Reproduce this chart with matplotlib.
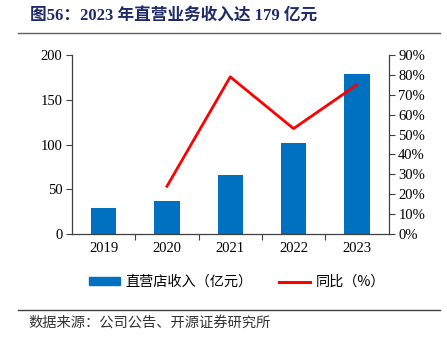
import matplotlib.pyplot as plt
import matplotlib.lines as mlines
import matplotlib.patches as mpatches
from matplotlib.ticker import FuncFormatter, MultipleLocator

plt.rcParams['font.family'] = ['Liberation Serif', 'Noto Sans CJK SC']

# data
years = ["2019", "2020", "2021", "2022", "2023"]
revenue = [29.4, 36.5, 65.9, 101.3, 179.0]      # 直营店收入（亿元）
yoy = [None, 24, 79, 53, 75]                     # 同比（%）

bar_color = '#0070C0'
line_color = '#FF0000'
title_color = '#1F2A6B'
cjk = ['Noto Sans CJK SC', 'DejaVu Sans']

fig = plt.figure(figsize=(4.47, 3.37), dpi=100)
ax = fig.add_axes([72 / 447, 1 - 234 / 337, (388.5 - 72) / 447, (234 - 55) / 337])

x = list(range(len(years)))
ax.bar(x, revenue, width=0.4, color=bar_color, zorder=2)
ax.set_xlim(-0.5, len(years) - 0.5)
ax.set_ylim(0, 200)
ax.yaxis.set_major_locator(MultipleLocator(50))
ax.set_xticks(x)
ax.set_xticklabels(years)
ax.set_xticks([i + 0.5 for i in x[:-1]], minor=True)
ax.tick_params(axis='x', which='major', length=0, pad=6, labelsize=10.5)
ax.tick_params(axis='x', which='minor', length=4, direction='out', width=0.8, color='#404040')
ax.tick_params(axis='y', length=4, width=0.8, color='#404040', labelsize=10.5, pad=3)
for s in ['top', 'right']:
    ax.spines[s].set_visible(False)
for s in ['left', 'bottom']:
    ax.spines[s].set_color('#404040')
    ax.spines[s].set_linewidth(0.9)

ax2 = ax.twinx()
xs = [i for i, v in zip(x, yoy) if v is not None]
vs = [v for v in yoy if v is not None]
ax2.plot(xs, vs, color=line_color, linewidth=2.0, zorder=3)
ax2.set_ylim(0, 90)
ax2.yaxis.set_major_locator(MultipleLocator(10))
ax2.yaxis.set_major_formatter(FuncFormatter(lambda v, p: f"{v:.0f}%"))
ax2.tick_params(axis='y', length=4, width=0.8, color='#404040', labelsize=10.5, pad=3)
for s in ['top', 'left', 'bottom']:
    ax2.spines[s].set_visible(False)
ax2.spines['right'].set_color('#404040')
ax2.spines['right'].set_linewidth(0.9)

# legend
handles = [mpatches.Patch(color=bar_color, label='直营店收入（亿元）'),
           mlines.Line2D([], [], color=line_color, linewidth=2.2, label='同比（%）')]
leg = fig.legend(handles=handles, loc='center left', bbox_to_anchor=(89 / 447, 1 - 282 / 337),
                 ncol=2, frameon=False, prop={'family': cjk, 'size': 10.2},
                 handlelength=2.2, handleheight=0.45, columnspacing=1.9, handletextpad=0.35,
                 borderpad=0, borderaxespad=0)

# title
fig.text(30 / 447, 1 - 17 / 337, '图56：2023 年直营业务收入达 179 亿元', fontsize=12,
         fontweight='bold', color=title_color, va='center', ha='left',
         family=['Liberation Serif', 'Noto Sans CJK SC'])
fig.add_artist(mlines.Line2D([18 / 447, 440 / 447], [1 - 33 / 337] * 2, color='#606060', linewidth=1))

# footer
fig.add_artist(mlines.Line2D([18 / 447, 440 / 447], [1 - 310 / 337] * 2, color='#404040', linewidth=1))
fig.text(28 / 447, 1 - 323 / 337, '数据来源：公司公告、开源证券研究所', fontsize=10.3,
         color='#333333', va='center', ha='left', family=cjk)

fig.savefig('out.png', dpi=100)
